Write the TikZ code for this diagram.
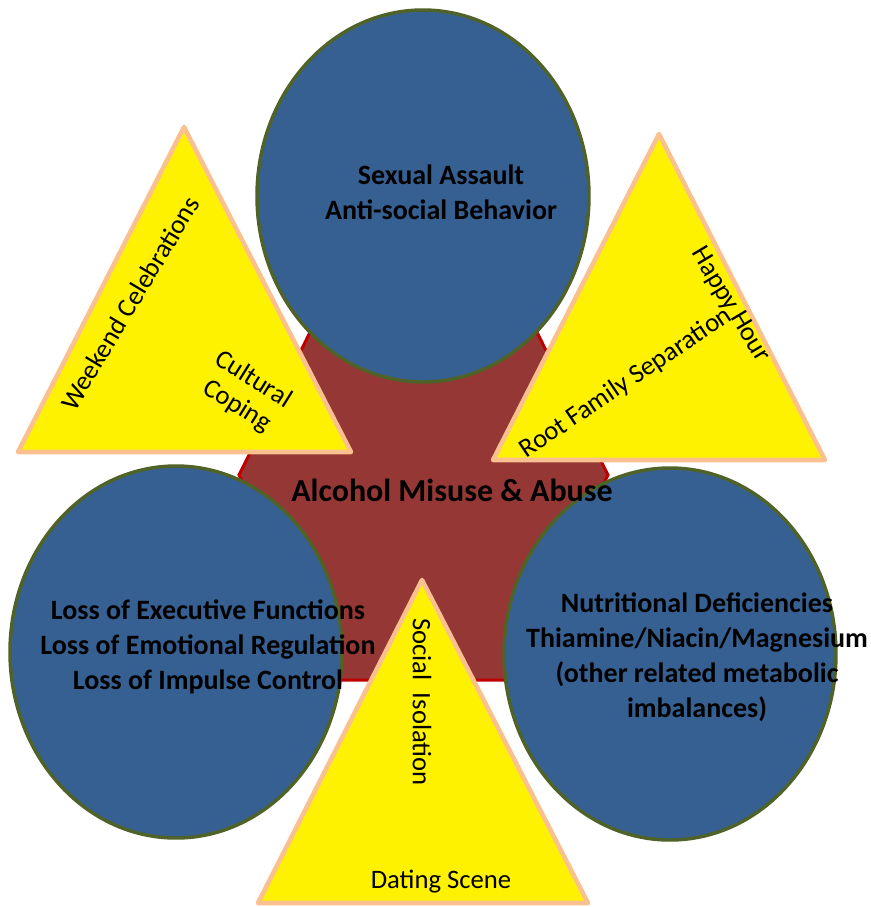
\documentclass[tikz,border=0pt]{standalone}
\usepackage{fontspec}
\setmainfont{Carlito}
\definecolor{hexred}{RGB}{149,55,53}
\definecolor{hexedge}{RGB}{192,0,0}
\definecolor{circblue}{RGB}{55,96,146}
\definecolor{circgreen}{RGB}{79,98,40}
\definecolor{tripeach}{RGB}{250,192,144}
\tikzset{
  blob/.style={fill=circblue, draw=circgreen, line width=2.6pt},
  wedge/.style={fill=yellow, draw=tripeach, line width=3.4pt, line join=round},
  boldtxt/.style={font=\bfseries\fontsize{21}{26.25}\selectfont, align=center},
  tritxt/.style={font=\fontsize{20}{23}\selectfont, align=center}
}
\begin{document}
\begin{tikzpicture}[x=0.75pt,y=-0.75pt]
\useasboundingbox (0,0) rectangle (871,907);
\draw[fill=hexred, draw=hexedge, line width=2.25pt] (239,475) -- (341,270) -- (506,270) -- (608,475) -- (506,680) -- (341,680) -- cycle;
\foreach \cx/\cy in {423/196, 176/652, 670/654}{
  \draw[blob] (\cx,\cy) ellipse [x radius=166, y radius=186];
}
\draw[wedge] (184,127) -- (18,452) -- (351,452) -- cycle;
\draw[wedge] (659,134) -- (493,460) -- (825,460) -- cycle;
\draw[wedge] (422,580) -- (258,903) -- (588,903) -- cycle;

\node[boldtxt, font=\bfseries\fontsize{24}{28}\selectfont] (core) at (452,490) {Alcohol Misuse \& Abuse};
\node[boldtxt] (harm) at (441,192) {Sexual Assault\\Anti-social Behavior};
\node[boldtxt] (brain) at (208,647) {Loss of Executive Functions\\Loss of Emotional Regulation\\Loss of Impulse Control};
\node[boldtxt] (body) at (697,657) {Nutritional Deficiencies\\Thiamine/Niacin/Magnesium\\(other related metabolic\\imbalances)};

\node[tritxt, rotate=59] (weekend) at (130,303) {Weekend Celebrations};
\node[tritxt, rotate=-32] (culture) at (245,393) {Cultural\\Coping};
\node[tritxt, rotate=34] (family) at (626,383) {Root Family Separation};
\node[tritxt, rotate=-59] (happy) at (730,305) {Happy Hour};
\node[tritxt, rotate=-90] (social) at (422,702) {Social\ \ Isolation};
\node[tritxt] (dating) at (441,882) {Dating Scene};
\end{tikzpicture}
\end{document}
